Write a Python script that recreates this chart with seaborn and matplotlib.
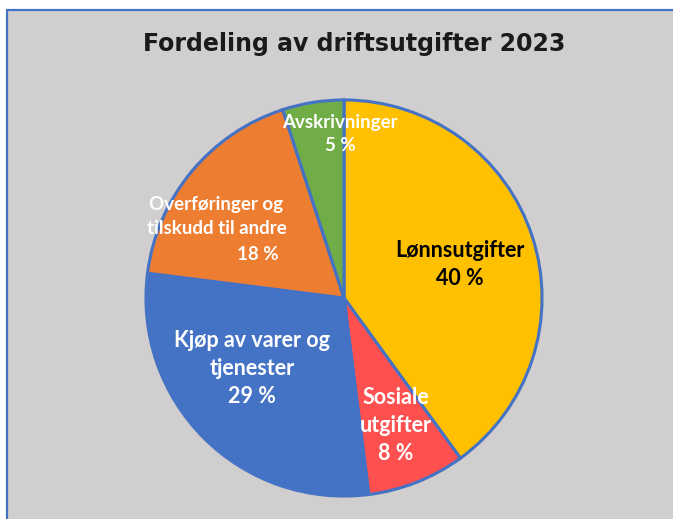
import matplotlib
matplotlib.use("Agg")
import matplotlib.pyplot as plt
from matplotlib.patches import Rectangle
from matplotlib.lines import Line2D
import seaborn as sns

sns.set_theme(style="white")
plt.rcParams['font.family'] = ['Lato', 'DejaVu Sans']

# data
categories = ["Lønnsutgifter", "Sosiale utgifter", "Kjøp av varer og tjenester",
              "Overføringer og tilskudd til andre", "Avskrivninger"]
shares = [40, 8, 29, 18, 5]
colors = ["#FFC000", "#FF5050", "#4472C4", "#ED7D31", "#70AD47"]
title = "Fordeling av driftsutgifter 2023"

W, H = 673, 519
fig = plt.figure(figsize=(W / 100, H / 100), dpi=100)
fig.patch.set_facecolor("white")

# grey chart area with blue top/left border
bg = Rectangle((7 / W, 0), 1 - 7 / W, 1 - 10 / H, transform=fig.transFigure,
               facecolor="#D0CECE", edgecolor="none", zorder=0)
fig.add_artist(bg)
fig.add_artist(Line2D([7 / W, 1], [1 - 10 / H, 1 - 10 / H], transform=fig.transFigure,
                      color="#4472C4", lw=1.6))
fig.add_artist(Line2D([7 / W, 7 / W], [0, 1 - 10 / H], transform=fig.transFigure,
                      color="#4472C4", lw=1.6))

fig.text(354 / W, 1 - 44 / H, title, ha="center", va="center",
         fontsize=17, fontweight="bold", color="#1a1a1a", family="DejaVu Sans")

cx, cy, r = 344, 298, 202
ax = fig.add_axes([(cx - r) / W, (H - cy - r) / H, 2 * r / W, 2 * r / H])
ax.pie(shares, colors=colors, startangle=90, counterclock=False, radius=1,
       wedgeprops=dict(edgecolor="#4472C4", linewidth=2.2))
ax.set_xlim(-1.02, 1.02)
ax.set_ylim(-1.02, 1.02)
ax.axis("off")


def px(x, y):
    return (x - cx) / r * 1.0, (cy - y) / r * 1.0


big = dict(fontsize=15.5, fontweight="bold", ha="center", va="center", linespacing=1.4)
small = dict(fontsize=13.5, fontweight="bold", ha="center", va="center", linespacing=1.45)

ax.text(*px(462, 264), f"{categories[0]}\n{shares[0]} %", color="black", **big)
ax.text(*px(397, 428), f"Sosiale\nutgifter\n{shares[1]} %", color="white", **big)
ax.text(*px(250, 370), f"Kjøp av varer og\ntjenester\n{shares[2]} %", color="white", **big)
ax.text(*px(214, 215), "Overføringer og\ntilskudd til andre", color="white", **small)
ax.text(*px(256, 254), f"{shares[3]} %", color="white", **small)
ax.text(*px(340, 131), f"{categories[4]}\n{shares[4]} %", color="white", **small)

fig.savefig("out.png", dpi=100, facecolor=fig.get_facecolor())
